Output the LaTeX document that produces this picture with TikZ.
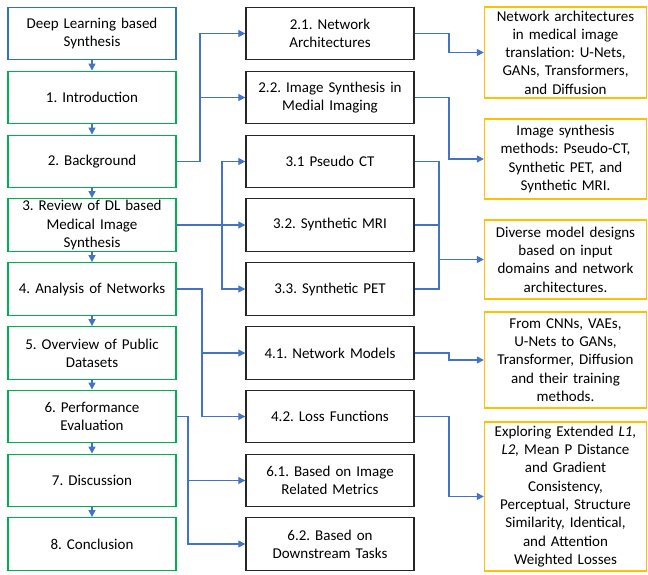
\documentclass[tikz,border=0pt]{standalone}
\usepackage{fontspec}
\setmainfont{Carlito}
\usetikzlibrary{arrows.meta}
\definecolor{cblue}{HTML}{4472C4}
\definecolor{tblue}{HTML}{2E75B6}
\definecolor{cgreen}{HTML}{00B050}
\definecolor{cyel}{HTML}{FFC000}
\frenchspacing
\begin{document}
\begin{tikzpicture}[x=1pt,y=-1pt,
 box/.style={rectangle, draw, line width=1.4pt, minimum width=168pt, minimum height=52.5pt, inner sep=0pt, align=center, font=\fontsize{15}{18.3}\selectfont, text width=164pt},
 topbox/.style={box, draw=tblue},
 gbox/.style={box, draw=cgreen},
 mbox/.style={box, draw=black!85},
 ybox/.style={box, draw=cyel, minimum width=162pt, text width=160pt},
 conn/.style={draw=cblue, line width=1.3pt, -{Triangle[length=7pt,width=7pt]}},
 wire/.style={draw=cblue, line width=1.3pt}
]
\useasboundingbox (0,0) rectangle (648,575);
% left column
\node[topbox] (s0) at (92,33.5) {Deep Learning based\\Synthesis};
\node[gbox] (s1) at (92,97.5) {1. Introduction};
\node[gbox] (s2) at (92,161.5) {2. Background};
\node[gbox] (s3) at (92,225) {3. Review of DL based\\Medical Image\\Synthesis};
\node[gbox] (s4) at (92,289) {4. Analysis of Networks};
\node[gbox] (s5) at (92,353) {5. Overview of Public\\Datasets};
\node[gbox] (s6) at (92,416.5) {6. Performance\\Evaluation};
\node[gbox] (s7) at (92,480.5) {7. Discussion};
\node[gbox] (s8) at (92,544) {8. Conclusion};
% middle column
\node[mbox] (n21) at (330,33.5) {2.1. Network\\Architectures};
\node[mbox] (n22) at (330,97.5) {2.2. Image Synthesis in\\Medial Imaging};
\node[mbox] (n31) at (330,161.5) {3.1 Pseudo CT};
\node[mbox] (n32) at (330,225) {3.2. Synthetic MRI};
\node[mbox] (n33) at (330,289) {3.3. Synthetic PET};
\node[mbox] (n41) at (330,353) {4.1. Network Models};
\node[mbox] (n42) at (330,416.5) {4.2. Loss Functions};
\node[mbox] (n61) at (330,480.5) {6.1. Based on Image\\Related Metrics};
\node[mbox] (n62) at (330,544) {6.2. Based on\\Downstream Tasks};
% right column
\node[ybox, minimum height=91pt] (r1) at (565.5,52.5) {Network architectures\\in medical image\\translation: U-Nets,\\GANs, Transformers,\\and Diffusion};
\node[ybox, minimum height=80pt] (r2) at (565.5,159) {Image synthesis\\methods: Pseudo-CT,\\Synthetic PET, and\\Synthetic MRI.};
\node[ybox, minimum height=79pt] (r3) at (565.5,259.5) {Diverse model designs\\based on input\\domains and network\\architectures.};
\node[ybox, minimum height=96pt] (r4) at (565.5,360) {From CNNs, VAEs,\\U-Nets to GANs,\\Transformer, Diffusion\\and their training\\methods.};
\node[ybox, minimum height=149pt] (r5) at (565.5,496.5) {Exploring Extended \textit{L1,}\\\textit{L2,} Mean P Distance\\and Gradient\\Consistency,\\Perceptual, Structure\\Similarity, Identical,\\and Attention\\Weighted Losses};
% bus coordinates
\coordinate (bA) at (200,0);
\coordinate (bB) at (222,0);
\coordinate (bC) at (202,0);
\coordinate (bD) at (188,0);
\coordinate (bE) at (449,0);
\coordinate (bF) at (439,0);
% left vertical arrows
\foreach \a/\b in {s0/s1,s1/s2,s2/s3,s3/s4,s4/s5,s5/s6,s6/s7,s7/s8}
  \draw[conn] (\a.south) -- (\b.north);
% left to middle
\draw[conn] (s2.east) -- (s2.east -| bA) |- (n21.west);
\draw[conn] (s2.east) -- (s2.east -| bA) |- (n22.west);
\draw[conn] (s3.east) -- (n32.west);
\draw[conn] (s3.east -| bB) |- (n31.west);
\draw[conn] (s3.east -| bB) |- (n33.west);
\draw[conn] (s4.east) -- (s4.east -| bC) |- (n41.west);
\draw[conn] (s4.east) -- (s4.east -| bC) |- (n42.west);
\draw[conn] (s6.east) -- (s6.east -| bD) |- (n61.west);
\draw[conn] (s6.east) -- (s6.east -| bD) |- (n62.west);
% middle to right
\draw[conn] (n21.east) -- (n21.east -| bE) |- (r1.west);
\draw[conn] (n22.east) -- (n22.east -| bE) |- (r2.west);
\draw[wire] (n31.east) -- (n31.east -| bF) -- (n33.east -| bF) -- (n33.east);
\draw[wire] (n32.east) -- (n32.east -| bF);
\draw[conn] (r3.west -| bF) -- (r3.west);
\draw[conn] (n41.east) -- (n41.east -| bE) |- (r4.west);
\draw[conn] (n42.east) -- (n42.east -| bE) |- (r5.west);
\end{tikzpicture}
\end{document}
